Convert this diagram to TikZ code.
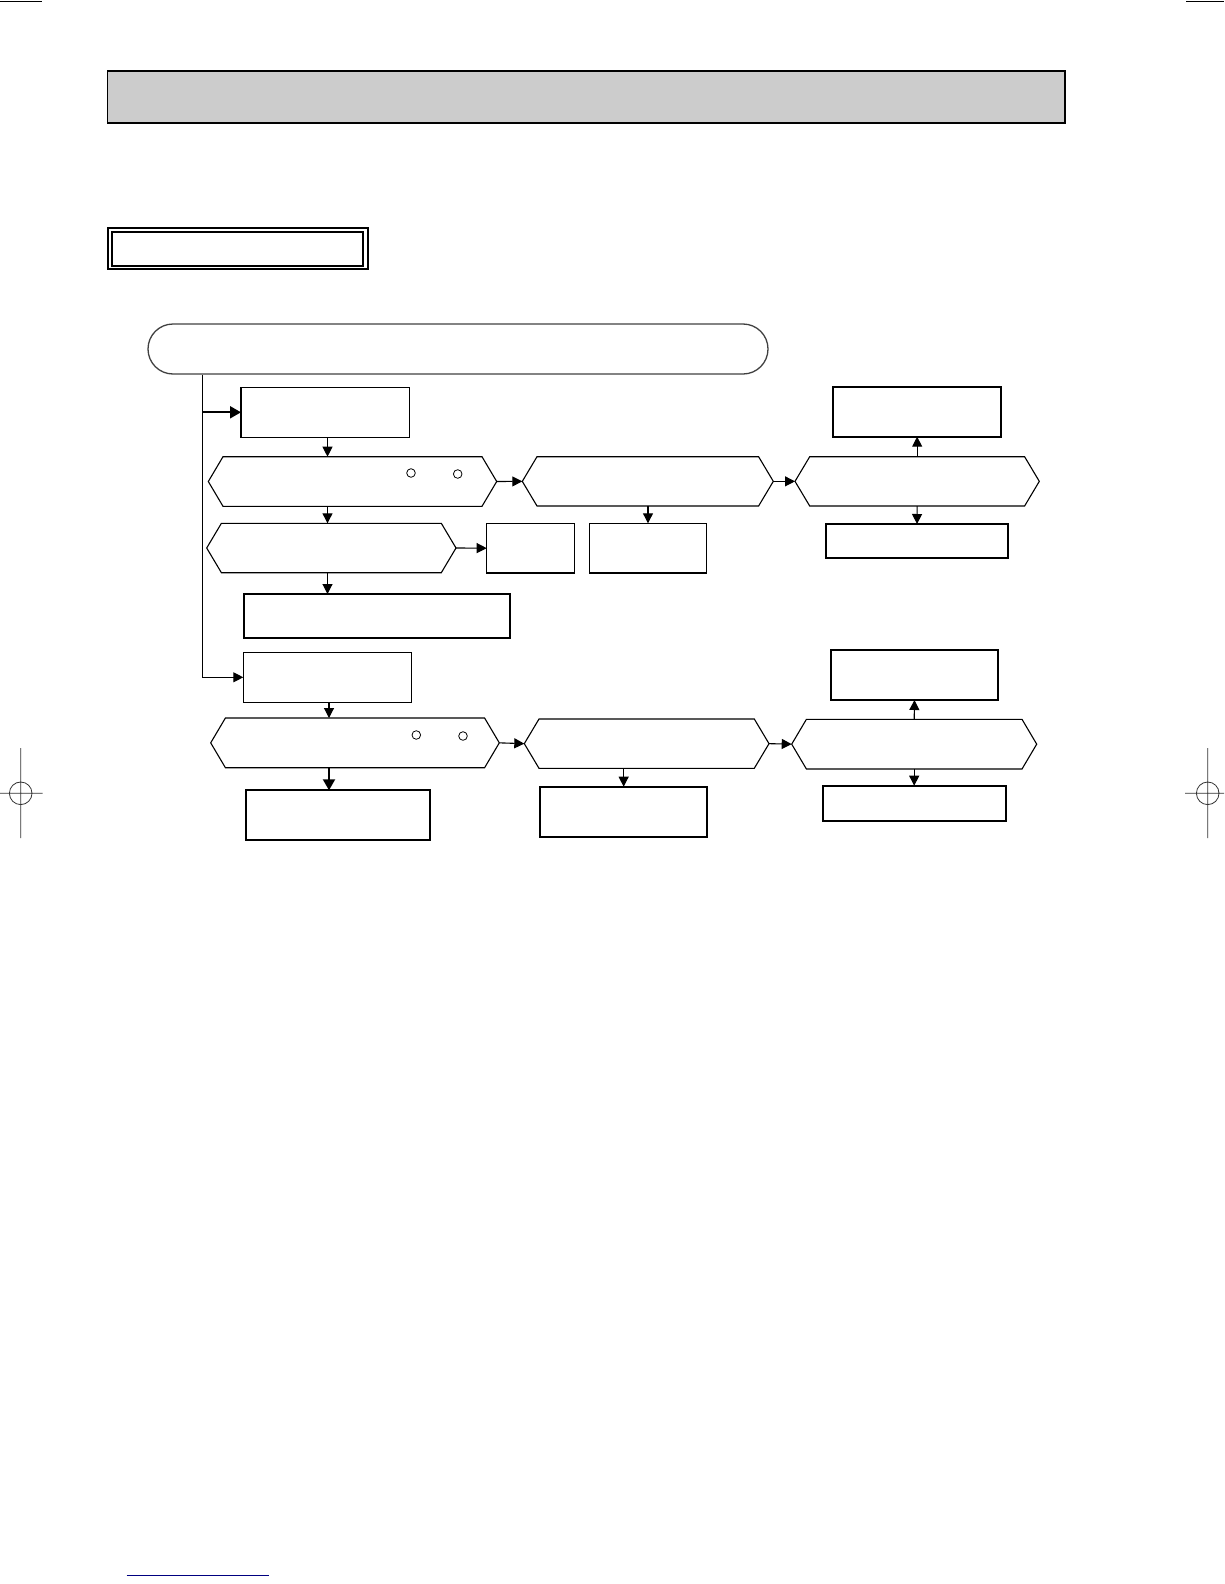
\documentclass[tikz,border=0pt]{standalone}
\usetikzlibrary{arrows.meta,fit,calc}
\tikzset{
  rthin/.style={draw=black, line width=1.1pt, inner sep=0pt, outer sep=0pt},
  rmid/.style={draw=black, line width=1.4pt, inner sep=0pt, outer sep=0pt},
  rthick/.style={draw=black, line width=2pt, inner sep=0pt, outer sep=0pt},
  rbanner/.style={draw=black, fill=black!20, line width=1.5pt, inner sep=0pt},
  rterm/.style={draw=black!75, line width=1.3pt, rounded corners=25pt, inner sep=0pt},
  hexfit/.style={draw=none, inner sep=0pt, outer sep=0pt},
  hexline/.style={draw=black, line width=1.1pt, line join=miter},
  arr/.style={line width=1.1pt, -{Triangle[length=10pt,width=10pt]}},
  arrthick/.style={line width=2pt, -{Triangle[length=11pt,width=12pt]}},
  cropline/.style={draw=black!80, line width=0.8pt},
  smallring/.style={circle, draw=black, line width=0.8pt, minimum size=8.6pt, inner sep=0pt},
}
\newcommand\mybox[6]{%
  \path (#3,#5) coordinate (#1-a) (#4,#6) coordinate (#1-b);
  \node[#2, fit=(#1-a)(#1-b)] (#1) {};}
\newcommand\myhex[5]{%
  \path (#2,#4) coordinate (#1-a) (#3,#5) coordinate (#1-b);
  \node[hexfit, fit=(#1-a)(#1-b)] (#1) {};
  \draw[hexline] (#1.west) -- ([xshift=14.7pt]#1.north west) -- ([xshift=-14.7pt]#1.north east)
    -- (#1.east) -- ([xshift=-14.7pt]#1.south east) -- ([xshift=14.7pt]#1.south west) -- cycle;}
\begin{document}
\begin{tikzpicture}[x=1pt,y=-1pt]
\useasboundingbox (0,0) rectangle (1224,1584);
% page marks
\draw[line width=1.5pt] (0,1.5) -- (42,1.5);
\draw[line width=1.5pt] (1186,1.5) -- (1224,1.5);
\draw[cropline] (20.7,748) -- (20.7,838) (0,793.3) -- (42.7,793.3) (20.7,793.3) circle[radius=11.3];
\draw[cropline] (1207.7,748) -- (1207.7,838) (1185,793.3) -- (1224,793.3) (1207.7,793.3) circle[radius=11.3];
\draw[draw={rgb,255:red,0;green,0;blue,128}, line width=1pt] (126.7,1575) -- (269,1575);
% heading
\mybox{banner}{rbanner}{107.3}{1065}{71}{123}
\mybox{titleo}{rthick}{107.5}{367.5}{227.5}{269}
\mybox{titlei}{rthick}{111.5}{363}{231.5}{265.5}
% terminator
\mybox{term}{rterm}{148}{768}{324}{374}
% first branch
\mybox{A}{rthin}{241}{409.3}{387.3}{437.3}
\myhex{H1}{208.3}{496.7}{456.7}{506.3}
\myhex{H2}{522.3}{773.3}{456.7}{506}
\myhex{H3}{795}{1039.3}{456.7}{506}
\mybox{TR}{rthick}{833.3}{1001}{386.7}{436.7}
\mybox{BR}{rthick}{825.7}{1008.3}{524}{557.7}
\myhex{H4}{206.7}{456}{523.3}{572.7}
\mybox{B}{rmid}{486.7}{574.3}{523.3}{573}
\mybox{C}{rmid}{589.7}{706.3}{523.3}{573}
\mybox{D}{rthick}{244}{510}{594}{637.7}
% second branch
\mybox{E}{rthin}{243.3}{411.7}{652.3}{702.3}
\myhex{H5}{210.7}{499.3}{718}{767.7}
\myhex{H6}{524.3}{769}{719}{768.3}
\myhex{H7}{791.7}{1036.7}{719.3}{769}
\mybox{F}{rthick}{246}{430.3}{790.3}{840}
\mybox{G}{rthick}{540}{707.3}{786.7}{836.7}
\mybox{TR2}{rthick}{830.7}{998.3}{650}{700}
\mybox{BR2}{rthick}{822.7}{1005.7}{785.7}{821}
% small rings
\node[smallring] (c1) at (411,473) {};
\node[smallring] (c2) at (457.7,474) {};
\node[smallring] (c3) at (416.3,735) {};
\node[smallring] (c4) at (463,736) {};
% connectors
\coordinate (trunk) at (202.5,678.3);
\coordinate (colA) at (327.5,0);
\coordinate (colB) at (329,0);
\draw[arr] (term.south -| trunk) |- (E.west);
\draw[arrthick] (A.west -| trunk) -- (A.west);
\draw[arr] (A.south -| colA) -- (H1.north -| colA);
\draw[arr] (H1.east) -- (H2.west);
\draw[arr] (H2.east) -- (H3.west);
\draw[arr] (H3.north) -- (TR.south);
\draw[arr] (H3.south) -- (BR.north);
\draw[arr] (H2.south -| C.north) -- (C.north);
\draw[arr] (H1.south -| colA) -- (H4.north -| colA);
\draw[arr] (H4.east) -- (B.west);
\draw[arr] (H4.south -| colA) -- (D.north -| colA);
\draw[arr] (E.south -| colB) -- (H5.north -| colB);
\draw[arrthick] (H5.south -| colB) -- (F.north -| colB);
\draw[arr] (H5.east) -- (H6.west);
\draw[arr] (H6.south -| G.north) -- (G.north);
\draw[arr] (H6.east) -- (H7.west);
\draw[arr] (H7.north) -- (TR2.south);
\draw[arr] (H7.south) -- (BR2.north);
\end{tikzpicture}
\end{document}
